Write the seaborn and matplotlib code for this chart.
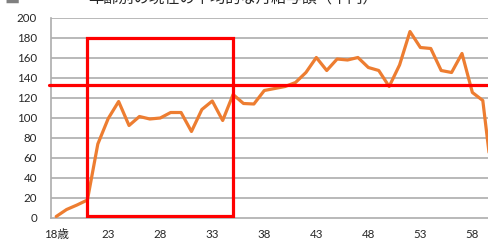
import numpy as np
import pandas as pd
import seaborn as sns
from matplotlib import pyplot as plt
from matplotlib.patches import Rectangle

ages = list(range(18, 61))
values = [1, 8, 12.5, 17.5, 73.5, 99, 116, 92, 101, 98.5, 99.5, 105, 105, 86,
          108, 116.5, 97, 123, 114, 113.5, 127, 129, 131, 135, 145, 160, 147,
          158.5, 157.5, 160, 150, 147, 131, 152.5, 186, 170, 169, 147, 145,
          164, 125, 117, 30]
tick_ages = [18, 23, 28, 33, 38, 43, 48, 53, 58]
tick_labels = ['18歳', '23', '28', '33', '38', '43', '48', '53', '58']
avg_line = 132.5
box_ages = (21, 35)
box_vals = (2, 180)
title = '年齢別の現在の平均的な月給与額（千円）'

df = pd.DataFrame({'age': ages, 'value': values})

sns.set_style('white')
plt.rcParams['font.family'] = ['Lato', 'Noto Sans CJK JP', 'DejaVu Sans']

fig = plt.figure(figsize=(4.88, 2.44), dpi=100)
ax = fig.add_axes([51 / 488, 1 - 217.5 / 244, 1 - 51 / 488, 200 / 244])

grid_col = '#ADADAD'
for v in range(20, 201, 20):
    ax.axhline(v, color=grid_col, lw=1.2, zorder=0)

sns.lineplot(data=df, x='age', y='value', ax=ax, color='#ED7D31', lw=2.3,
             zorder=3)

# average line and highlighted range
ax.plot([17.3, 60], [avg_line, avg_line], color='#FF0000', lw=2.3,
        clip_on=False, zorder=4)
ax.add_patch(Rectangle((box_ages[0], box_vals[0]), box_ages[1] - box_ages[0],
                       box_vals[1] - box_vals[0], fill=False,
                       edgecolor='#FF0000', lw=2.3, zorder=5))

ax.set_xlim(17.5, 59.5)
ax.set_ylim(0, 200)
ax.set_yticks(range(0, 201, 20))
ax.set_xticks(tick_ages)
ax.set_xticklabels(tick_labels)
ax.set_xticks(np.arange(17.5, 60, 1), minor=True)
ax.tick_params(axis='x', which='major', length=0, pad=8, labelsize=8.3)
ax.tick_params(axis='x', which='minor', length=3, color=grid_col, width=1)
ax.tick_params(axis='y', length=2, color=grid_col, width=1, pad=8,
               labelsize=8.3)
ax.set_xlabel('')
ax.set_ylabel('')

for s in ['top', 'right']:
    ax.spines[s].set_visible(False)
for s in ['left', 'bottom']:
    ax.spines[s].set_color(grid_col)
    ax.spines[s].set_linewidth(1.2)

# title sits mostly above the top edge, as in the source image
fig.text(4 / 488, 1 - 2.5 / 244, '■', fontsize=11, color='#808080',
         va='baseline', ha='left')
fig.text(88 / 488, 1 - 2.5 / 244, title, fontsize=11, va='baseline',
         ha='left')

fig.savefig('out.png', dpi=100)
